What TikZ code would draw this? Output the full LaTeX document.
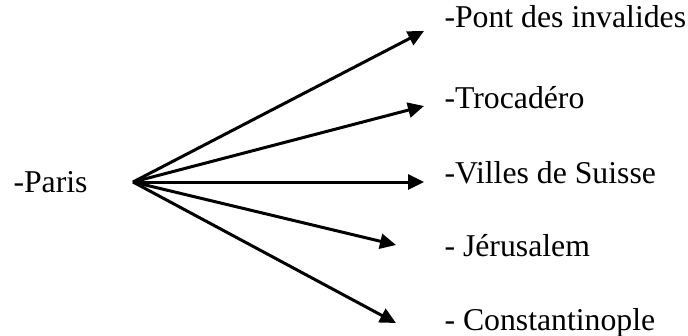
\documentclass[tikz,border=0pt]{standalone}
\usepackage{fontspec}
\setmainfont{Liberation Serif}
\usepackage{tikz}
\usetikzlibrary{arrows.meta}

\begin{document}
\begin{tikzpicture}[x=0.4pt, y=-0.4pt,
  place/.style={anchor=base west, inner sep=0pt, font=\fontsize{12.7}{15}\selectfont},
  >={Triangle[length=6.4pt, width=6pt]}, line width=1.2pt]
\useasboundingbox (0,0) rectangle (688,335);

\node[place] (paris) at (12,192) {-Paris};
\coordinate (hub) at (133,182);

\node[place] (pont) at (443,27) {-Pont des invalides};
\node[place] (troca) at (443,108) {-Trocad\'ero};
\node[place] (suisse) at (443,183) {-Villes de Suisse};
\node[place] (jeru) at (443,256) {- J\'erusalem};
\node[place] (const) at (443,330) {- Constantinople};

\coordinate (t1) at (424,31);
\coordinate (t2) at (424,106);
\coordinate (t3) at (424,182);
\coordinate (t4) at (396,245);
\coordinate (t5) at (396,323);

\path[draw] [->] (hub) -- (t1);
\path[draw] [->] (hub) -- (t2);
\path[draw] [->] (hub) -- (t3);
\path[draw] [->] (hub) -- (t4);
\path[draw] [->] (hub) -- (t5);

\end{tikzpicture}
\end{document}
